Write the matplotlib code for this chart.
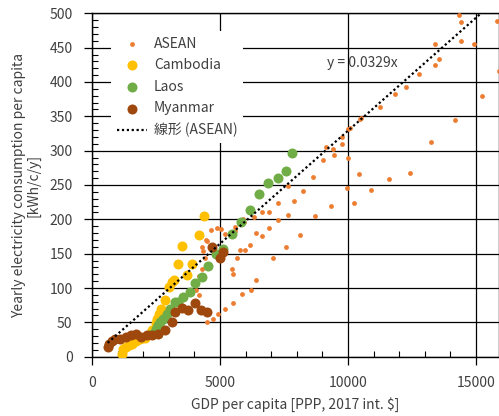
import numpy as np
import matplotlib
matplotlib.use("Agg")
import matplotlib.pyplot as plt
from matplotlib.ticker import MultipleLocator

plt.rcParams['font.family'] = ['Noto Sans CJK JP', 'DejaVu Sans']

# ASEAN member countries, GDP per capita vs yearly electricity per capita
asean_gdp = [14348, 14402, 15809, 13410, 14402, 14910, 13566, 13410, 15887, 12773,
             12254, 11836, 15223, 11238, 10508, 10457, 14191, 10078, 9988, 9766,
             9766, 13254, 9141, 9414, 9441, 9012, 10012, 8621, 10441, 12422,
             11590, 8230, 10910, 9961, 10246, 9336, 8699, 8125, 7668, 7277,
             7879, 6652, 6914, 7645, 6340, 5938, 5887, 7277, 6914, 5586,
             5586, 5184, 5496, 5039, 4871, 4660, 6406, 6652, 4504, 4441,
             4297, 4348, 4426, 5781, 5977, 6172, 7590, 5652, 7070, 5457,
             5496, 4297, 6406, 6199, 5848, 5496, 5184, 4934, 4738, 4504,
             4191, 4063, 4168]
asean_kwh = [497, 487, 489, 455, 460, 455, 433, 424, 416, 411,
             392, 382, 380, 364, 348, 346, 345, 333, 331, 320,
             309, 313, 306, 302, 293, 286, 290, 262, 266, 268,
             259, 241, 243, 246, 224, 219, 205, 177, 248, 224,
             227, 210, 210, 206, 203, 196, 200, 199, 187, 189,
             183, 179, 180, 186, 188, 185, 180, 176, 168, 170,
             159, 154, 143, 155, 156, 162, 159, 144, 143, 128,
             120, 128, 112, 97, 91, 78, 69, 62, 55, 50,
             90, 97, 118]

cambodia_gdp = [1184, 1211, 1328, 1457, 1574, 1730, 1887, 2070, 2332, 2500,
                2551, 2598, 2707, 2852, 3027, 3125, 3203, 3730, 3371, 3926,
                3535, 4168, 4363]
cambodia_kwh = [4.4, 11, 14.6, 16.6, 18.5, 22.9, 25.8, 27.2, 38.4, 48.6,
                55.6, 61.7, 69.9, 82.1, 101.8, 108.3, 111.3, 118.5, 135, 135,
                161, 177.7, 205.2]

laos_gdp = [2355, 2500, 2590, 2668, 2785, 2918, 3059, 3254, 3348, 3566,
            3848, 4043, 4289, 4531, 4836, 5137, 5480, 5820, 6184, 6535,
            6863, 7254, 7578, 7813]
laos_kwh = [33, 39.9, 46.2, 50.5, 55.3, 62.2, 69.5, 79.7, 80.1, 87.4,
            94.7, 106.6, 115.6, 131.6, 149.1, 156.6, 178.3, 195.7, 214, 237,
            252.5, 259.8, 270.4, 297]

myanmar_gdp = [613, 664, 770, 898, 1105, 1316, 1523, 1707, 1914, 2137,
               2355, 2590, 2852, 3137, 3254, 3504, 3750, 4012, 4250, 4480,
               4707, 5000, 5117]
myanmar_kwh = [14.6, 18.5, 23.3, 25.3, 26.2, 29.1, 31.2, 33.1, 28.3, 31.6,
               32, 33.1, 38.9, 50.5, 65.5, 70.5, 68, 77.5, 67.3, 64.4,
               159, 143.3, 152.5]

slope = 0.0329
trend_x = [613, 16000]

text_c = '#404040'

fig = plt.figure(figsize=(4.99, 4.16), dpi=100)
ax = fig.add_axes([92 / 499, 1 - 356.7 / 416, 407 / 499, (356.7 - 13.3) / 416])

ax.scatter(asean_gdp, asean_kwh, s=12, color='#ED7D31', linewidths=0, zorder=3, label='ASEAN')
ax.scatter(cambodia_gdp, cambodia_kwh, s=52, color='#FFC000', linewidths=0, zorder=4, label='Cambodia')
ax.scatter(laos_gdp, laos_kwh, s=52, color='#70AD47', linewidths=0, zorder=5, label='Laos')
ax.scatter(myanmar_gdp, myanmar_kwh, s=52, color='#9E480E', linewidths=0, zorder=6, label='Myanmar')
tx = np.array(trend_x, dtype=float)
ax.plot(tx, slope * tx, color='black', lw=1.6, linestyle=(0, (1, 1.2)), zorder=7,
        label='線形 (ASEAN)')

ax.text(9200, 428, 'y = 0.0329x', fontsize=10, color=text_c, va='center', ha='left', zorder=8)

ax.set_xlim(0, 15900)
ax.set_ylim(0, 500)
ax.xaxis.set_major_locator(MultipleLocator(5000))
ax.xaxis.set_minor_locator(MultipleLocator(1000))
ax.yaxis.set_major_locator(MultipleLocator(50))
ax.yaxis.set_minor_locator(MultipleLocator(10))
ax.grid(True, which='major', color='black', lw=0.9, zorder=0)
ax.set_axisbelow(True)
ax.tick_params(which='major', direction='out', length=6, width=0.9, colors='black',
               labelcolor=text_c, labelsize=10, pad=8)
ax.tick_params(which='minor', direction='in', length=4, width=0.8, colors='black')
for sp in ax.spines.values():
    sp.set_color('black')
    sp.set_linewidth(1.0)

ax.set_xlabel('GDP per capita [PPP, 2017 int. $]', fontsize=10, color=text_c, labelpad=5)
ax.set_ylabel('Yearly electricity consumption per capita\n[kWh/c/y]', fontsize=10,
              color=text_c, labelpad=6, linespacing=1.1)

leg = ax.legend(loc='upper left', bbox_to_anchor=(104 / 499, 1 - 24 / 416),
                bbox_transform=fig.transFigure, frameon=True, fontsize=10,
                handlelength=2.2, handletextpad=0.5, labelspacing=0.55,
                labelcolor=text_c, borderpad=0.4, fancybox=False)
leg.get_frame().set_facecolor('white')
leg.get_frame().set_edgecolor('none')
leg.get_frame().set_alpha(1.0)
leg.set_zorder(10)

fig.savefig('out.png', dpi=100)
